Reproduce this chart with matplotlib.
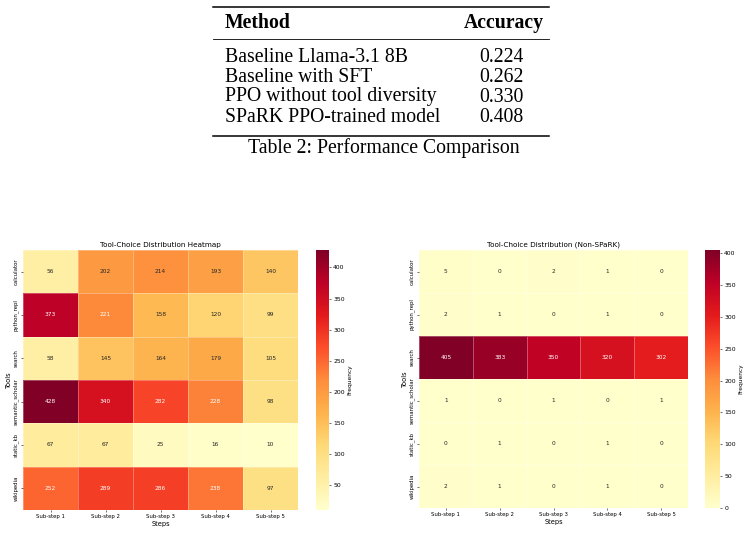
import numpy as np
import matplotlib
matplotlib.use('Agg')
import matplotlib.pyplot as plt
import seaborn as sns
from matplotlib.lines import Line2D

W, H = 746, 534

methods = ['Baseline Llama-3.1 8B', 'Baseline with SFT', 'PPO without tool diversity', 'SPaRK PPO-trained model']
accuracy = [0.224, 0.262, 0.330, 0.408]

tools = ['calculator', 'python_repl', 'search', 'semantic_scholar', 'static_kb', 'wikipedia']
steps = ['Sub-step 1', 'Sub-step 2', 'Sub-step 3', 'Sub-step 4', 'Sub-step 5']

spark_counts = [
    [56, 202, 214, 193, 140],
    [373, 221, 158, 120, 99],
    [58, 145, 164, 179, 105],
    [428, 340, 282, 228, 98],
    [67, 67, 25, 16, 10],
    [252, 289, 286, 238, 97],
]
nonspark_counts = [
    [5, 0, 2, 1, 0],
    [2, 1, 0, 1, 0],
    [405, 383, 350, 320, 302],
    [1, 0, 1, 0, 1],
    [0, 1, 0, 1, 0],
    [2, 1, 0, 1, 0],
]


def px_box(x0, y0, x1, y1):
    # pixel box -> figure fraction [left, bottom, width, height]
    return [x0 / W, 1 - y1 / H, (x1 - x0) / W, (y1 - y0) / H]


def fx(x):
    return x / W


def fy(y):
    return 1 - y / H


fig = plt.figure(figsize=(W / 100, H / 100), dpi=100)

# ---- table on top ----
serif = 'Liberation Serif'
fs = 14.2
for y, lw in [(7, 1.1), (39, 0.6), (136, 1.1)]:
    fig.add_artist(Line2D([fx(213), fx(549)], [fy(y), fy(y)], color='black', lw=lw))
fig.text(fx(225), fy(23), 'Method', fontsize=fs, fontweight='bold', family=serif, va='center', ha='left')
fig.text(fx(504), fy(23), 'Accuracy', fontsize=fs, fontweight='bold', family=serif, va='center', ha='center')
for i, (m, a) in enumerate(zip(methods, accuracy)):
    yy = 57 + i * 20
    fig.text(fx(225), fy(yy), m, fontsize=fs, family=serif, va='center', ha='left')
    fig.text(fx(501), fy(yy), f'{a:.3f}', fontsize=fs, family=serif, va='center', ha='center')
fig.text(fx(384), fy(148), 'Table 2: Performance Comparison', fontsize=fs, family=serif, va='center', ha='center')


def draw_heat(data, box, cbox, title):
    ax = fig.add_axes(px_box(*box))
    cax = fig.add_axes(px_box(*cbox))
    sns.heatmap(np.array(data), ax=ax, cbar_ax=cax, cmap='YlOrRd', annot=True, fmt='d',
                annot_kws={'fontsize': 4.2}, linewidths=0.5, linecolor=(1, 1, 1, 0.3),
                xticklabels=steps, yticklabels=tools,
                cbar_kws={'label': 'Frequency'})
    ax.set_title(title, fontsize=5.2, pad=2.5)
    ax.set_xlabel('Steps', fontsize=4.8, labelpad=1)
    ax.set_ylabel('Tools', fontsize=4.8, labelpad=1)
    ax.tick_params(axis='both', labelsize=3.9, length=1.5, width=0.4, pad=1.5)
    plt.setp(ax.get_yticklabels(), rotation=90, va='center')
    plt.setp(ax.get_xticklabels(), rotation=0)
    cax.tick_params(labelsize=4.4, length=1.5, width=0.4, pad=1.5)
    cax.set_ylabel('Frequency', fontsize=4.2, labelpad=2)
    for s in cax.spines.values():
        s.set_visible(False)
    return ax


draw_heat(spark_counts, (23, 250, 298, 510), (316, 250, 329, 510), 'Tool-Choice Distribution Heatmap')
draw_heat(nonspark_counts, (419, 250, 688, 508), (705, 250, 720, 508), 'Tool-Choice Distribution (Non-SPaRK)')

fig.savefig('out.png', dpi=100)
